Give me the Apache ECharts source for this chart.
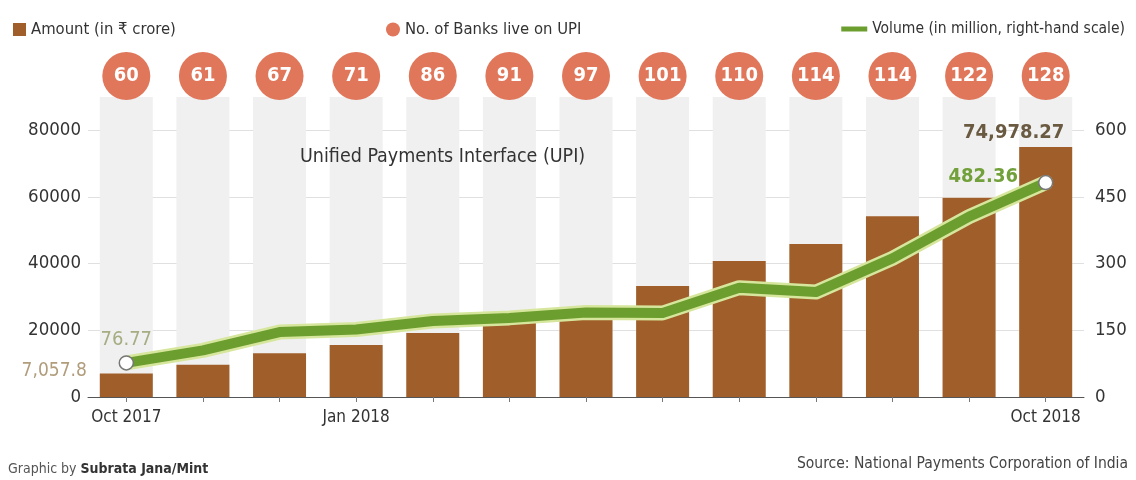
<!DOCTYPE html>
<html>
<head>
<meta charset="utf-8">
<script src="https://cdn.jsdelivr.net/npm/echarts@6/dist/echarts.min.js"></script>
<style>
  html, body { margin: 0; padding: 0; background: #ffffff; }
  #chart { width: 1136px; height: 480px; }
</style>
</head>
<body>
<div id="chart"></div>
<script>
// Monthly UPI figures, Oct 2017 - Oct 2018
const months = ['Oct 2017', 'Nov 2017', 'Dec 2017', 'Jan 2018', 'Feb 2018', 'Mar 2018', 'Apr 2018',
                'May 2018', 'Jun 2018', 'Jul 2018', 'Aug 2018', 'Sep 2018', 'Oct 2018'];
const shownMonthLabels = ['Oct 2017', 'Jan 2018', 'Oct 2018'];
const amountCrore = [7057.8, 9700, 13100, 15600, 19200, 24000, 27000, 33300, 40800, 45900, 54200, 59800, 74978.27];
const volumeMillion = [76.77, 105, 146, 152, 171, 178, 190, 189, 246, 236, 312, 406, 482.36];
const banksLive = [60, 61, 67, 71, 86, 91, 97, 101, 110, 114, 114, 122, 128];
const amountTicks = [0, 20000, 40000, 60000, 80000];
const volumeTicks = [0, 150, 300, 450, 600];

const NAME_AMOUNT = 'Amount (in ₹ crore)';
const NAME_BANKS = 'No. of Banks live on UPI';
const NAME_VOLUME = 'Volume (in million, right-hand scale)';

const FONT = "'Liberation Sans Narrow', 'DejaVu Sans Condensed', 'Noto Sans', sans-serif";
const GREEN = '#6c9d2f';
const last = months.length - 1;

const fmtThousands = (v, digits) =>
  v.toLocaleString('en-US', { minimumFractionDigits: digits, maximumFractionDigits: digits });

const amountData = amountCrore.map((v, i) => {
  if (i === 0) {
    return { value: v, label: { show: true, position: 'left', distance: 13, offset: [0, -14],
      formatter: () => fmtThousands(v, 1), color: '#b19d7c', fontSize: 19, fontFamily: FONT } };
  }
  if (i === last) {
    return { value: v, label: { show: true, position: 'top', distance: 4, offset: [-32, 0],
      formatter: () => fmtThousands(v, 2), color: '#6b5a42', fontSize: 20, fontWeight: 'bold', fontFamily: FONT } };
  }
  return v;
});

// End points get a white dot and a value label; the rest of the line has no markers
const endDot = { color: '#ffffff', borderColor: '#777', borderWidth: 1.5 };
const volumeData = volumeMillion.map((v, i) => {
  if (i === 0) {
    return { value: v, symbol: 'circle', itemStyle: endDot, label: { show: true, position: 'top', distance: 5,
      formatter: () => String(v), color: '#a7ac83', fontSize: 20, fontFamily: FONT } };
  }
  if (i === last) {
    return { value: v, symbol: 'circle', itemStyle: endDot, label: { show: true, position: 'left', distance: 20, offset: [0, -6],
      formatter: () => String(v), color: '#72a03a', fontSize: 20, fontWeight: 'bold', fontFamily: FONT } };
  }
  return { value: v, symbol: 'none' };
});

const bankData = banksLive.map((n, i) => [i, 0, n]);

const chart = echarts.init(document.getElementById('chart'), null, { renderer: 'canvas' });

chart.setOption({
  animation: false,
  backgroundColor: '#ffffff',
  textStyle: { fontFamily: FONT },
  legend: [
    { data: [NAME_AMOUNT], left: 8, top: 16, icon: 'rect', itemWidth: 13, itemHeight: 13, itemGap: 8,
      textStyle: { color: '#333', fontSize: 16.5, fontFamily: FONT } },
    { data: [NAME_BANKS], left: 381, top: 16, icon: 'circle', itemWidth: 14, itemHeight: 14,
      textStyle: { color: '#333', fontSize: 16.5, fontFamily: FONT } },
    { data: [{ name: NAME_VOLUME, itemStyle: { color: GREEN, borderWidth: 0 } }], right: 6, top: 16,
      icon: 'rect', itemWidth: 26, itemHeight: 5,
      textStyle: { color: '#333', fontSize: 15.5, fontFamily: FONT } }
  ],
  grid: [
    { left: 88, right: 52, top: 97, bottom: 83 },
    { left: 88, right: 52, top: 52, height: 48 }
  ],
  xAxis: [
    {
      type: 'category', gridIndex: 0, data: months, boundaryGap: true,
      axisLine: { lineStyle: { color: '#555', width: 1 } },
      axisTick: { show: true, alignWithLabel: true, interval: 0, length: 5, lineStyle: { color: '#777' } },
      axisLabel: {
        interval: (idx, val) => shownMonthLabels.includes(val),
        color: '#333', fontSize: 17, margin: 12, fontFamily: FONT
      }
    },
    {
      type: 'category', gridIndex: 1, data: months, boundaryGap: true, show: false
    }
  ],
  yAxis: [
    {
      type: 'value', gridIndex: 0, min: amountTicks[0], max: 90000,
      interval: amountTicks[1] - amountTicks[0],
      axisLine: { show: false }, axisTick: { show: false },
      axisLabel: {
        showMaxLabel: false, color: '#333', fontSize: 18.5, margin: 7, fontFamily: FONT,
        formatter: (v) => amountTicks.includes(v) ? String(v) : ''
      },
      splitLine: { show: true, showMaxLine: false, lineStyle: { color: '#e0e0e0', width: 1 } }
    },
    {
      type: 'value', gridIndex: 0, position: 'right', min: volumeTicks[0], max: 675,
      interval: volumeTicks[1] - volumeTicks[0],
      axisLine: { show: false }, axisTick: { show: false },
      axisLabel: {
        showMaxLabel: false, color: '#333', fontSize: 18.5, margin: 11, fontFamily: FONT,
        formatter: (v) => volumeTicks.includes(v) ? String(v) : ''
      },
      splitLine: { show: false }
    },
    {
      type: 'category', gridIndex: 1, data: [''], show: false
    }
  ],
  graphic: [
    { type: 'text', left: 300, top: 147, z: 10,
      style: { text: 'Unified Payments Interface (UPI)', fill: '#333', fontSize: 19.5, fontFamily: FONT } },
    { type: 'text', left: 8, top: 462, z: 10,
      style: { text: '{a|Graphic by }{b|Subrata Jana/Mint}', fill: '#444', fontSize: 14, fontFamily: FONT,
        rich: { a: { fontSize: 14, fill: '#555', fontFamily: FONT },
                b: { fontSize: 14, fill: '#333', fontWeight: 'bold', fontFamily: FONT } } } },
    { type: 'text', right: 8, top: 456, z: 10,
      style: { text: 'Source: National Payments Corporation of India', fill: '#444', fontSize: 15.5, fontFamily: FONT } }
  ],
  series: [
    {
      name: NAME_AMOUNT, type: 'bar', xAxisIndex: 0, yAxisIndex: 0,
      data: amountData, barWidth: 53,
      itemStyle: { color: '#a05f2a' },
      showBackground: true,
      backgroundStyle: { color: '#f0f0f0' },
      z: 2
    },
    {
      name: 'volume-edge', type: 'line', xAxisIndex: 0, yAxisIndex: 1,
      data: volumeMillion, symbol: 'none', silent: true,
      lineStyle: { color: '#d6e69c', width: 15, cap: 'round', join: 'round' },
      z: 3
    },
    {
      name: NAME_VOLUME, type: 'line', xAxisIndex: 0, yAxisIndex: 1,
      data: volumeData, symbolSize: 14,
      itemStyle: { color: GREEN },
      lineStyle: { color: GREEN, width: 10, join: 'round' },
      emphasis: { disabled: true },
      z: 4
    },
    {
      name: NAME_BANKS, type: 'scatter', xAxisIndex: 1, yAxisIndex: 2,
      data: bankData, symbolSize: 48,
      itemStyle: { color: '#e0765a', opacity: 1 },
      label: { show: true, position: 'inside', formatter: (p) => String(p.value[2]),
        color: '#ffffff', fontSize: 20, fontWeight: 'bold', fontFamily: FONT },
      z: 3
    }
  ]
});
</script>
</body>
</html>
